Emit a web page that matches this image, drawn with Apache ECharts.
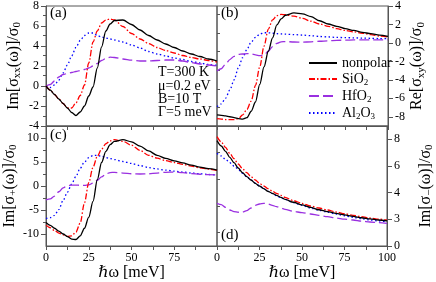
<!DOCTYPE html>
<html><head><meta charset="utf-8">
<script src="https://cdn.jsdelivr.net/npm/echarts@6/dist/echarts.min.js"></script>
<style>html,body{margin:0;padding:0;background:#fff}#c{width:436px;height:282px}</style>
</head><body><div id="c"></div>
<script>
// photon energy hbar*omega [meV]
const energy = [0,2.5,5,7.5,10,12.5,15,17.5,20,22.5,25,27.5,30,32.5,35,37.5,40,45,50,55,60,65,70,75,80,85,90,95,100];
const seriesNames = ['nonpolar','SiO2','HfO2','Al2O3'];

// (a) Im[sigma_xx]/sigma_0
const a_nonpolar = [0,-0.42,-0.85,-1.3,-1.75,-2.2,-2.65,-2.95,-2.6,-2.0,-1.0,-0.1,1.8,3.9,5.5,6.2,6.55,6.6,6.15,5.6,5.05,4.6,4.2,3.85,3.5,3.2,2.95,2.7,2.5];
const a_SiO2     = [0,-0.4,-0.85,-1.3,-1.75,-2.2,-2.2,-1.7,-0.95,0.1,2.3,4.4,5.5,6.3,6.6,6.7,6.6,5.95,5.25,4.7,4.25,3.85,3.55,3.3,3.05,2.85,2.7,2.55,2.4];
const a_HfO2     = [0,0.15,0.5,0.9,1.15,1.25,1.35,1.45,1.55,1.65,1.8,2.0,2.25,2.55,2.75,2.88,2.85,2.7,2.58,2.5,2.5,2.55,2.6,2.6,2.5,2.35,2.2,2.1,2.0];
const a_Al2O3    = [0,-0.15,0.1,0.6,1.3,2.1,3.0,3.85,4.55,5.05,5.3,5.3,5.05,4.9,4.8,4.7,4.6,4.4,4.1,3.8,3.45,3.2,3.0,2.8,2.65,2.45,2.3,2.15,2.05];

// (b) Re[sigma_xy]/sigma_0
const b_nonpolar = [-7.8,-7.85,-7.9,-8.0,-8.1,-8.2,-8.25,-8.1,-7.4,-6.4,-4.5,-2.6,-0.9,0.55,1.95,2.6,3.0,3.25,3.15,2.85,2.4,2.05,1.8,1.55,1.35,1.15,1.0,0.85,0.7];
const b_SiO2     = [-8.2,-8.25,-8.3,-8.3,-8.3,-8.2,-7.8,-7.2,-6.3,-4.6,-2.6,-0.35,1.5,2.5,2.95,3.1,3.05,2.9,2.65,2.35,2.05,1.8,1.55,1.35,1.2,1.05,0.9,0.75,0.65];
const b_HfO2     = [-3.05,-2.8,-2.3,-1.8,-1.45,-1.25,-1.2,-1.15,-1.2,-1.3,-1.38,-1.3,-0.9,-0.4,-0.05,0.12,0.15,0.1,0.08,0.12,0.18,0.23,0.28,0.3,0.32,0.32,0.32,0.33,0.33];
const b_Al2O3    = [-6.9,-6.6,-6.0,-5.1,-4.0,-2.7,-1.6,-0.7,0.1,0.6,0.95,1.1,1.1,1.05,1.0,0.97,0.95,0.9,0.85,0.78,0.7,0.65,0.6,0.57,0.55,0.52,0.5,0.47,0.45];

// (c) Im[sigma_+]/sigma_0
const c_nonpolar = [-7.6,-8.2,-8.8,-9.4,-10.0,-10.55,-11.05,-11.15,-10.4,-8.8,-6.5,-3.2,1.3,4.9,7.2,8.6,9.3,9.65,9.2,8.3,7.3,6.4,5.75,5.25,4.8,4.35,3.95,3.6,3.3];
const c_SiO2     = [-8.15,-8.7,-9.3,-9.8,-10.2,-10.5,-10.4,-9.6,-7.7,-3.5,0.7,3.9,6.2,7.7,8.8,9.4,9.65,9.3,8.5,7.4,6.4,5.8,5.3,4.9,4.5,4.15,3.8,3.5,3.25];
const c_HfO2     = [-2.9,-2.7,-2.1,-1.2,-0.4,0.05,0.2,0.2,0.15,0.15,0.25,0.6,1.2,1.9,2.5,2.8,2.85,2.7,2.55,2.5,2.55,2.7,2.85,2.9,2.8,2.6,2.45,2.35,2.3];
const c_Al2O3    = [-6.8,-6.6,-6.1,-4.9,-3.0,-1.3,0.4,2.0,3.7,5.0,5.9,6.35,6.4,6.2,5.95,5.7,5.5,5.1,4.7,4.25,3.85,3.55,3.3,3.1,2.9,2.7,2.55,2.4,2.3];

// (d) Im[sigma_-]/sigma_0
const d_nonpolar = [7.9,7.5,7.1,6.65,6.25,5.85,5.5,5.2,4.95,4.7,4.5,4.3,4.1,3.95,3.8,3.65,3.5,3.28,3.08,2.9,2.72,2.58,2.45,2.33,2.22,2.12,2.03,1.95,1.88];
const d_SiO2     = [8.2,7.8,7.4,6.95,6.55,6.15,5.8,5.5,5.2,4.95,4.7,4.5,4.3,4.12,3.95,3.8,3.65,3.4,3.2,3.0,2.85,2.7,2.55,2.42,2.3,2.2,2.1,2.02,1.95];
const d_HfO2     = [3.2,3.1,2.9,2.7,2.58,2.53,2.55,2.65,2.85,3.05,3.15,3.2,3.15,3.05,2.95,2.85,2.75,2.6,2.5,2.4,2.3,2.2,2.1,2.02,1.95,1.87,1.8,1.75,1.7];
const d_Al2O3    = [6.95,6.75,6.5,6.25,6.0,5.75,5.45,5.2,4.95,4.72,4.5,4.3,4.1,3.93,3.78,3.63,3.5,3.25,3.05,2.85,2.68,2.53,2.4,2.27,2.15,2.05,1.95,1.88,1.82];

// ticks
const xTickLabelsLeft  = [0,25,50,75];
const xTickLabelsRight = [0,25,50,75,100];
const aMajor = [-4,-2,0,2,4,6,8],  aMinor = [-3,-1,1,3,5,7];
const bMajor = [-8,-6,-4,-2,0,2,4], bMinor = [-9,-7,-5,-3,-1,1,3];
const cMajor = [-10,-5,0,5,10],     cMinor = [-7.5,-2.5,2.5,7.5];
const dMajor = [0,2,4,6,8],         dMinor = [1,3,5,7];
const dTickText = ['0','3','4','6','8'];

const FONT = '"Liberation Serif","DejaVu Serif",serif';
const colors = {nonpolar:'#000000', SiO2:'#ff0000', HfO2:'#9a30e0', Al2O3:'#0000ff'};
const dashes = {nonpolar:'solid', SiO2:[6,2,1.5,2], HfO2:[10,4], Al2O3:[1.5,2.5]};
const rich = {
  n:{fontFamily:FONT,fontSize:16,lineHeight:19,color:'#000'},
  s:{fontFamily:FONT,fontSize:11,lineHeight:8,verticalAlign:'bottom',color:'#000'}
};
const legendRich = {
  n:{fontFamily:FONT,fontSize:14,lineHeight:16,color:'#000'},
  s:{fontFamily:FONT,fontSize:9,lineHeight:7,verticalAlign:'bottom',color:'#000'}
};

const panels = [
  {left:46, top:5, height:121, min:-4, max:8, major:aMajor, minor:aMinor, side:'left', xl:null,
   name:'{n|Im[σ}{s|xx}{n|(ω)]/σ}{s|0}', gap:23, data:[a_nonpolar,a_SiO2,a_HfO2,a_Al2O3]},
  {left:217, top:5, height:121, min:-9, max:4, major:bMajor, minor:bMinor, side:'right', xl:null,
   name:'{n|Re[σ}{s|xy}{n|(ω)]/σ}{s|0}', gap:19, data:[b_nonpolar,b_SiO2,b_HfO2,b_Al2O3]},
  {left:46, top:126, height:120, min:-12.5, max:12.5, major:cMajor, minor:cMinor, side:'left', xl:xTickLabelsLeft,
   name:'{n|Im[σ}{s|+}{n|(ω)]/σ}{s|0}', gap:23, data:[c_nonpolar,c_SiO2,c_HfO2,c_Al2O3]},
  {left:217, top:126, height:120, min:0, max:9, major:dMajor, minor:dMinor, side:'right', xl:xTickLabelsRight,
   name:'{n|Im[σ}{s|−}{n|(ω)]/σ}{s|0}', gap:29, data:[d_nonpolar,d_SiO2,d_HfO2,d_Al2O3], labels:dTickText}
];

const AX = '#555';
const grid=[], xAxis=[], yAxis=[], series=[];
panels.forEach((p,i)=>{
  grid.push({left:p.left, top:p.top, width:171, height:p.height, show:true, borderColor:AX, borderWidth:1, containLabel:false});
  xAxis.push({type:'value', gridIndex:i, min:0, max:100, interval:12.5,
    axisLine:{show:true, onZero:false, lineStyle:{color:AX}},
    axisTick:{show:true, inside:false, length:4, lineStyle:{color:AX}},
    axisLabel:{show:!!p.xl, customValues:p.xl||[], margin:6, fontFamily:FONT, fontSize:12, color:'#000'},
    splitLine:{show:false},
    name:p.xl?'ℏω [meV]':'', nameLocation:'middle', nameGap:18,
    nameTextStyle:{fontFamily:FONT, fontSize:16, color:'#000'}});
  yAxis.push({type:'value', gridIndex:i, min:p.min, max:p.max, position:p.side,
    axisLine:{show:true, onZero:false, lineStyle:{color:AX}},
    axisTick:{show:true, customValues:p.major, length:5, lineStyle:{color:AX}},
    axisLabel:{customValues:p.major, margin:7, fontFamily:FONT, fontSize:12, color:'#000',
      formatter:(v)=>{ if(p.labels){ return p.labels[p.major.indexOf(v)]; } return String(v); }},
    splitLine:{show:false},
    name:p.name, nameLocation:'middle', nameGap:p.gap,
    nameTextStyle:{rich:rich}});
  p.data.forEach((arr,k)=>{
    const nm = seriesNames[k];
    series.push({type:'line', name:nm, xAxisIndex:i, yAxisIndex:i,
      data: energy.map((x,j)=>[x, arr[j]]),
      showSymbol:false, symbol:'none', smooth:0.3, smoothMonotone:'x', clip:true,
      lineStyle:{color:colors[nm], width:1.3, type:dashes[nm]}, itemStyle:{color:colors[nm]},
      z: 10-k});
  });
});
// minor-tick overlay grids
panels.forEach((p,i)=>{
  const gi = grid.length;
  grid.push({left:p.left, top:p.top, width:171, height:p.height, show:false});
  xAxis.push({type:'value', gridIndex:gi, min:0, max:100, show:false});
  yAxis.push({type:'value', gridIndex:gi, min:p.min, max:p.max, position:p.side,
    axisLine:{show:false}, axisLabel:{show:false}, splitLine:{show:false},
    axisTick:{show:true, customValues:p.minor, length:3, lineStyle:{color:AX}}});
});

const legendText = {nonpolar:'{n|nonpolar}', SiO2:'{n|SiO}{s|2}', HfO2:'{n|HfO}{s|2}', Al2O3:'{n|Al}{s|2}{n|O}{s|3}'};
const chart = echarts.init(document.getElementById('c'), null, {renderer:'canvas'});
chart.setOption({
  animation:false,
  backgroundColor:'#fff',
  grid, xAxis, yAxis, series,
  legend:{data:seriesNames, orient:'vertical', left:303, top:51, itemWidth:28, itemHeight:14, itemGap:2,
    selectedMode:false, formatter:(n)=>legendText[n], textStyle:{rich:legendRich},
    itemStyle:{opacity:0, borderWidth:0}},
  graphic:[
    {type:'text', left:50, top:6, style:{text:'(a)', font:'15px '+FONT, fill:'#000'}},
    {type:'text', left:221, top:6, style:{text:'(b)', font:'15px '+FONT, fill:'#000'}},
    {type:'text', left:50, top:128, style:{text:'(c)', font:'15px '+FONT, fill:'#000'}},
    {type:'text', left:221, top:228, style:{text:'(d)', font:'15px '+FONT, fill:'#000'}},
    {type:'text', left:158, top:65, style:{text:'T=300 K', font:'14px '+FONT, fill:'#000'}},
    {type:'text', left:158, top:79, style:{text:'μ=0.2 eV', font:'14px '+FONT, fill:'#000'}},
    {type:'text', left:158, top:92, style:{text:'B=10 T', font:'14px '+FONT, fill:'#000'}},
    {type:'text', left:158, top:105, style:{text:'Γ=5 meV', font:'14px '+FONT, fill:'#000'}}
  ]
});
</script></body></html>
